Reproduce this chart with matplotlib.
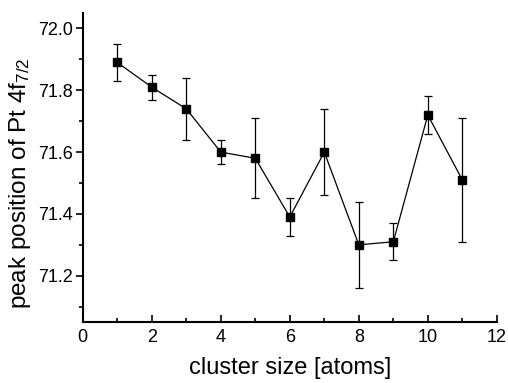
import matplotlib
matplotlib.use("Agg")
import matplotlib.pyplot as plt
from matplotlib.ticker import MultipleLocator

plt.rcParams['font.family'] = ['Liberation Sans', 'DejaVu Sans']
plt.rcParams['mathtext.fontset'] = 'custom'
plt.rcParams['mathtext.rm'] = 'Liberation Sans'
plt.rcParams['mathtext.it'] = 'Liberation Sans'

cluster_size = [1, 2, 3, 4, 5, 6, 7, 8, 9, 10, 11]
peak_pos = [71.89, 71.81, 71.74, 71.60, 71.58, 71.39, 71.60, 71.30, 71.31, 71.72, 71.51]
errors = [0.06, 0.04, 0.10, 0.04, 0.13, 0.06, 0.14, 0.14, 0.06, 0.06, 0.20]

fig = plt.figure(figsize=(5.08, 3.83), dpi=100)
ax = fig.add_axes([0.163, 0.159, 0.815, 0.807])
ax.errorbar(cluster_size, peak_pos, yerr=errors, color='black', lw=0.9,
            marker='s', markersize=6, capsize=3, elinewidth=0.9, capthick=0.9)
ax.set_xlim(0, 12)
ax.set_ylim(71.05, 72.05)
ax.xaxis.set_major_locator(MultipleLocator(2))
ax.xaxis.set_minor_locator(MultipleLocator(1))
ax.yaxis.set_major_locator(MultipleLocator(0.2))
ax.yaxis.set_minor_locator(MultipleLocator(0.1))
ax.spines['top'].set_visible(False)
ax.spines['right'].set_visible(False)
for s in ['left', 'bottom']:
    ax.spines[s].set_linewidth(1.5)
ax.tick_params(which='both', width=1.2, labelsize=13)
ax.tick_params(axis='x', which='both', direction='in', pad=5)
ax.tick_params(axis='y', which='both', direction='out', pad=2)
ax.tick_params(which='major', length=5)
ax.tick_params(which='minor', length=3)
ax.set_yticks([71.2, 71.4, 71.6, 71.8, 72.0])
ax.set_yticklabels(['71.2', '71.4', '71.6', '71.8', '72.0'])
ax.set_xlabel('cluster size [atoms]', fontsize=17, labelpad=8)
ax.set_ylabel('peak position of Pt 4f$_{7/2}$', fontsize=17.5)
ax.yaxis.set_label_coords(-0.121, 0.45)
fig.savefig('out.png', dpi=100)
